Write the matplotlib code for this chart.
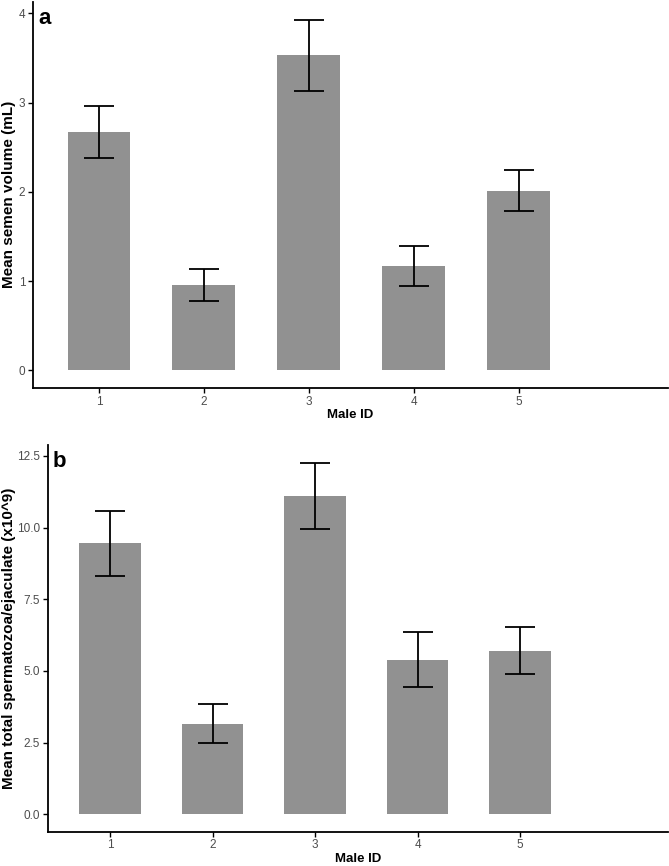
import numpy as np
import matplotlib
matplotlib.use('Agg')
import matplotlib.pyplot as plt

plt.rcParams['font.family'] = ['Liberation Sans', 'DejaVu Sans']

# data
male_id = [1, 2, 3, 4, 5]
volume_mean = [2.67, 0.96, 3.53, 1.17, 2.01]
volume_err = [0.29, 0.18, 0.40, 0.22, 0.23]
sperm_mean = [9.45, 3.15, 11.10, 5.39, 5.70]
sperm_err = [1.13, 0.68, 1.15, 0.96, 0.82]

bar_col = '#919191'
tick_col = '#4D4D4D'

fig = plt.figure(figsize=(6.69, 8.66), dpi=100)

def panel(rect, means, errs, ylab, letter, yticks, fmt, ylim, xlim, ylab_x):
    ax = fig.add_axes(rect)
    ax.bar(male_id, means, width=0.6, color=bar_col, edgecolor='none', zorder=1)
    ax.errorbar(male_id, means, yerr=errs, fmt='none', ecolor='black',
                elinewidth=1.3, capsize=10.5, capthick=1.3, zorder=2)
    ax.set_xlim(*xlim)
    ax.set_ylim(*ylim)
    ax.set_xticks(male_id)
    ax.set_xticklabels([str(i) for i in male_id])
    ax.set_yticks(yticks)
    ax.set_yticklabels([fmt % v for v in yticks])
    for s in ['top', 'right']:
        ax.spines[s].set_visible(False)
    for s in ['left', 'bottom']:
        ax.spines[s].set_linewidth(1.3)
    ax.tick_params(axis='both', direction='out', length=3.5, width=1.0,
                   colors='black', labelcolor=tick_col, labelsize=8.5, pad=2)
    ax.set_xlabel('Male ID', fontsize=9.5, fontweight='bold', labelpad=1)
    ax.set_ylabel(ylab, fontsize=11, fontweight='bold', va='center')
    ax.yaxis.set_label_coords(ylab_x, 0.5)
    ax.text(0.008, 0.985, letter, transform=ax.transAxes, fontsize=16,
            fontweight='bold', va='top', ha='left')
    return ax

panel([0.0493, 0.552, 0.949, 0.446], volume_mean, volume_err,
      'Mean semen volume (mL)', 'a', [0, 1, 2, 3, 4], '%d',
      (-0.197, 4.13), (0.371, 6.42), (9 - 33) / 635)
panel([0.0713, 0.0396, 0.927, 0.4465], sperm_mean, sperm_err,
      'Mean total spermatozoa/ejaculate (x10^9)', 'b',
      [0.0, 2.5, 5.0, 7.5, 10.0, 12.5], '%.1f',
      (-0.61, 12.88), (0.392, 6.44), (9 - 47.7) / 620.3)

fig.savefig('out.png', dpi=100)
